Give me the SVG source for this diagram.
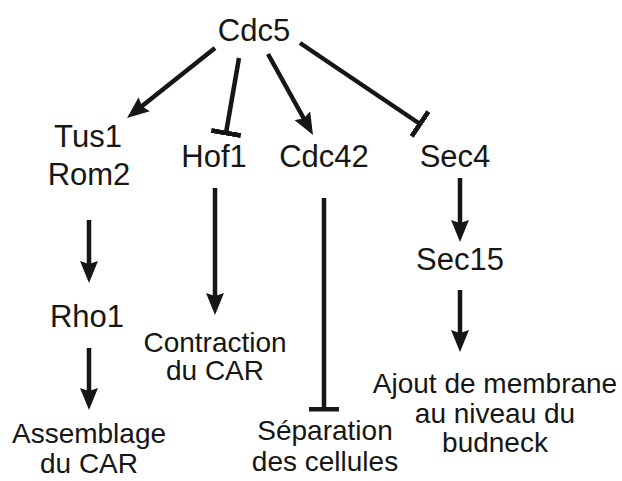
<svg xmlns="http://www.w3.org/2000/svg" width="622" height="481" viewBox="0 0 622 481">
<style>
text{font-family:"Liberation Sans",Arial,Helvetica,sans-serif;fill:#161616;text-anchor:middle}
.n{font-size:31px}
.o{font-size:28px}
.c line{stroke:#161616;stroke-width:4.5;fill:none}
.a{marker-end:url(#arr)}
.t{marker-end:url(#tee)}
</style>
<defs>
<marker id="arr" markerUnits="userSpaceOnUse" viewBox="0 0 22 18" markerWidth="22" markerHeight="18" refX="14" refY="9" orient="auto">
<path d="M0,0 L22,9 L0,18 L3,9 z" fill="#161616"/>
</marker>
<marker id="tee" markerUnits="userSpaceOnUse" viewBox="0 0 5 32" markerWidth="5" markerHeight="32" refX="2.5" refY="16" orient="auto">
<rect x="0" y="1" width="5" height="30" fill="#161616"/>
</marker>
</defs>
<g id="connectors" class="c">
<line class="a" x1="215" y1="48" x2="133.3" y2="113"/>
<line class="t" x1="239" y1="58" x2="226" y2="133"/>
<line class="a" x1="268" y1="54" x2="309.1" y2="128"/>
<line class="t" x1="300" y1="43" x2="420" y2="124"/>
<line class="a" x1="89" y1="220" x2="89" y2="275"/>
<line class="a" x1="89" y1="348" x2="89" y2="402"/>
<line class="a" x1="215" y1="188" x2="215" y2="307"/>
<line class="t" x1="324" y1="198" x2="324" y2="409"/>
<line class="a" x1="460" y1="178" x2="460" y2="234"/>
<line class="a" x1="460" y1="290" x2="460" y2="344"/>
</g>
<g id="cdc5"><text class="n" x="254" y="41">Cdc5</text></g>
<g id="tus1rom2"><text class="n" x="88" y="147">Tus1</text><text class="n" x="89" y="185">Rom2</text></g>
<g id="hof1"><text class="n" x="214" y="167">Hof1</text></g>
<g id="cdc42"><text class="n" x="324" y="167">Cdc42</text></g>
<g id="sec4"><text class="n" x="455" y="167">Sec4</text></g>
<g id="rho1"><text class="n" x="87" y="327">Rho1</text></g>
<g id="sec15"><text class="n" x="460" y="270">Sec15</text></g>
<g id="contraction"><text class="o" x="215" y="352">Contraction</text><text class="o" x="215" y="380">du CAR</text></g>
<g id="assemblage"><text class="o" x="89" y="443">Assemblage</text><text class="o" x="89" y="473">du CAR</text></g>
<g id="separation"><text class="o" x="325" y="440">Séparation</text><text class="o" x="325" y="471">des cellules</text></g>
<g id="ajout"><text class="o" x="495" y="393">Ajout de membrane</text><text class="o" x="495" y="423">au niveau du</text><text class="o" x="495" y="452">budneck</text></g>
</svg>
